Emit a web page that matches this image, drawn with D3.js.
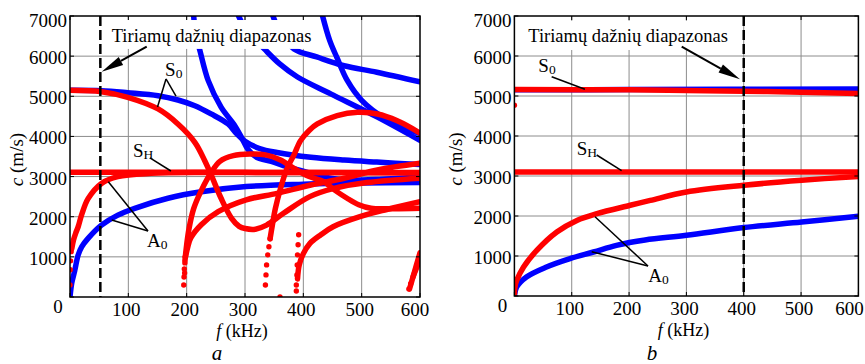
<!DOCTYPE html>
<html><head><meta charset="utf-8">
<script src="https://cdn.jsdelivr.net/npm/d3@7"></script>
<style>
body{margin:0;background:#fff}
svg{display:block}
</style>
</head><body>
<svg id="chart" width="865" height="364"></svg>
<script>
// ---------- tick values ----------
const xTicks = [0, 100, 200, 300, 400, 500, 600];
const xTickLabels = ["100", "200", "300", "400", "500", "600"];
const yTicks = [0, 1000, 2000, 3000, 4000, 5000, 6000, 7000];
const yTickLabels = ["1000", "2000", "3000", "4000", "5000", "6000", "7000"];

// ---------- panel a : blue curves (f kHz, c m/s) ----------
const aBlueA0 = [[0,0],[3,350],[8,650],[14,1046],[20,1250],[31,1460],[54,1790],[82,2040],[111,2210],[168,2460],[225,2620],[302,2750],[400,2810],[500,2840],[600,2850]];
const aBlueS0 = [[0,5150],[54,5140],[99,5090],[151,5015],[185,4908],[214,4766],[242,4560],[271,4310],[285,4080],[300,3880],[325,3700],[355,3600],[413,3480],[470,3410],[526,3360],[600,3300]];
const aBlueA1 = [[212,7000],[216,6500],[222,6180],[237,5390],[259,4730],[282,4280],[295,3950],[305,3680],[320,3480],[345,3380],[372,3246],[413,3082],[447,2957],[470,2915],[530,2930],[600,2990]];
const aBlueM2 = [[289,7000],[300,6700],[315,6450],[333,6180],[360,5800],[390,5480],[447,5060],[527,4480],[600,3900]];
const aBlueM3 = [[348,7000],[360,6600],[384,6180],[423,5980],[470,5760],[526,5600],[600,5360]];
const aBlueM4 = [[433,7000],[445,6400],[458,5950],[475,5400],[500,4900],[540,4450],[600,4070]];

// ---------- panel a : red curves ----------
const aRedSH = [[0,3110],[300,3105],[600,3090]];
const aRedA0 = [[3,1200],[6,1420],[10,1600],[14,1750],[20,2050],[31,2450],[54,2830],[82,3000],[139,3080],[250,3100],[600,3100]];
const aRedS0 = [[0,5150],[54,5115],[99,4975],[151,4684],[185,4310],[214,3854],[231,3396],[242,3040],[259,2459],[277,1960],[290,1760],[300,1705],[318,1690],[337,1790],[366,2085],[411,2500],[451,2700],[509,2850],[600,2960]];
const aRedM1 = [[197,900],[200,1300],[204,1700],[212,2200],[225,2650],[242,3100],[257,3380],[280,3520],[309,3560],[335,3540],[360,3420],[384,3206],[410,3000],[435,2873],[455,2650],[475,2460],[495,2300],[516,2210],[555,2200],[600,2210]];
const aRedM2 = [[198,1000],[202,1250],[207,1470],[225,1800],[254,2125],[302,2420],[355,2583],[413,2790],[470,2957],[527,3164],[600,3330]];
const aRedM3 = [[343,1450],[347,1800],[352,2200],[361,2710],[372,3200],[384,3540],[395,3890],[410,4150],[424,4310],[458,4517],[493,4600],[527,4560],[561,4390],[600,4080]];
const aRedM4 = [[390,450],[393,800],[400,1080],[411,1330],[430,1550],[451,1750],[497,2000],[543,2180],[600,2375]];
const aRedM5 = [[582,200],[586,400],[590,600],[594,800],[598,1000],[600,1100]];
const aRedM6 = [[588,500],[592,650],[596,800],[600,950]];
const aRedDots = [[0,300],[0.5,680],[1,900],[2,1130],
  [195,300],[195.5,500],[196,700],[197,850],[196.5,600],[197.5,1000],
  [335,300],[336,550],[337,800],[339,1050],[341,1250],[343,1450],
  [388,150],[388,300],[389,550],[389.5,800],[390,1050],[391,1300],[392,1550],
  [360,0],[581,200],[584,330]];

// ---------- panel b ----------
const bBlueS0 = [[0,5155],[200,5160],[600,5175]];
const bBlueA0 = [[0,0],[4,225],[21,475],[56,725],[97,935],[138,1100],[178,1267],[228,1400],[300,1517],[400,1710],[501,1850],[600,1993]];
const bRedS0 = [[0,5160],[200,5155],[300,5140],[400,5120],[500,5095],[600,5065]];
const bRedSH = [[0,3100],[600,3100]];
const bRedA0 = [[0,60],[1,250],[4,390],[16,725],[39,1140],[74,1600],[109,1890],[144,2060],[202,2268],[237,2390],[300,2600],[400,2768],[501,2893],[600,2990]];
const bRedDots = [[0,4770],[0,60],[1,250]];

// ---------- text ----------
const rangeLabel = "Tiriamų dažnių diapazonas";

const FONT = '"Liberation Serif", "Times New Roman", serif';
const svg = d3.select("#chart");
const RED = "#ff0000", BLUE = "#0000ff";

function txt(sel) { return sel.append("text").attr("font-family", FONT).attr("fill", "#000"); }

function panel(o) {
  const x = d3.scaleLinear().domain([0, 600]).range(o.xr);
  const y = d3.scaleLinear().domain([0, 7000]).range(o.yr);
  const g = svg.append("g");
  const id = "clip" + o.name;
  svg.append("defs").append("clipPath").attr("id", id)
    .append("rect").attr("x", o.xr[0]).attr("y", o.yr[1])
    .attr("width", o.xr[1] - o.xr[0]).attr("height", o.yr[0] - o.yr[1]);

  // grid
  g.selectAll(".gx").data(xTicks.slice(1, -1)).enter().append("line")
    .attr("x1", d => x(d)).attr("x2", d => x(d)).attr("y1", y(0)).attr("y2", y(7000))
    .attr("stroke", "#8c8c8c").attr("stroke-width", 1);
  g.selectAll(".gy").data(yTicks.slice(1, -1)).enter().append("line")
    .attr("y1", d => y(d)).attr("y2", d => y(d)).attr("x1", x(0)).attr("x2", x(600))
    .attr("stroke", "#8c8c8c").attr("stroke-width", 1);

  const line = d3.line().x(d => x(d[0])).y(d => y(d[1])).curve(d3.curveCatmullRom.alpha(0.5));
  const cg = g.append("g").attr("clip-path", `url(#${id})`);
  o.blue.forEach(s => cg.append("path").attr("d", line(s)).attr("fill", "none")
    .attr("stroke", BLUE).attr("stroke-width", 5.5).attr("stroke-linecap", "round").attr("stroke-linejoin", "round"));
  o.red.forEach(s => cg.append("path").attr("d", line(s)).attr("fill", "none")
    .attr("stroke", RED).attr("stroke-width", 5.5).attr("stroke-linecap", "round").attr("stroke-linejoin", "round"));
  cg.selectAll(".dot").data(o.dots).enter().append("circle")
    .attr("cx", d => x(d[0])).attr("cy", d => y(d[1])).attr("r", 2.7).attr("fill", RED);

  // label box
  g.append("rect").attr("x", x(o.box[0])).attr("y", y(o.box[3]))
    .attr("width", x(o.box[1]) - x(o.box[0])).attr("height", y(o.box[2]) - y(o.box[3])).attr("fill", "#fff");

  // dashed line
  g.append("line").attr("x1", x(o.dash)).attr("x2", x(o.dash)).attr("y1", y(7000)).attr("y2", y(0))
    .attr("stroke", "#000").attr("stroke-width", 2.5).attr("stroke-dasharray", "10,4");

  // frame
  g.append("rect").attr("x", x(0)).attr("y", y(7000)).attr("width", x(600) - x(0)).attr("height", y(0) - y(7000))
    .attr("fill", "none").attr("stroke", "#000").attr("stroke-width", 1.5);
  xTicks.forEach(t => {
    g.append("line").attr("x1", x(t)).attr("x2", x(t)).attr("y1", y(0)).attr("y2", y(0) - 4).attr("stroke", "#000");
    g.append("line").attr("x1", x(t)).attr("x2", x(t)).attr("y1", y(7000)).attr("y2", y(7000) + 4).attr("stroke", "#000");
  });
  yTicks.forEach(t => {
    g.append("line").attr("y1", y(t)).attr("y2", y(t)).attr("x1", x(0)).attr("x2", x(0) + 4).attr("stroke", "#000");
    g.append("line").attr("y1", y(t)).attr("y2", y(t)).attr("x1", x(600)).attr("x2", x(600) - 4).attr("stroke", "#000");
  });
  // tick labels
  xTickLabels.forEach((d, i) => txt(g).attr("x", x(xTicks[i + 1]) - (i === 5 ? o.lastShift : 2)).attr("y", y(0) + 19)
    .attr("text-anchor", "middle").attr("font-size", 19).text(d));
  yTickLabels.forEach((d, i) => txt(g).attr("x", x(0) - 3).attr("y", y(yTicks[i + 1]) + (i === 6 ? 10.5 : 8))
    .attr("text-anchor", "end").attr("font-size", 19).text(d));
  txt(g).attr("x", x(0) - 12).attr("y", y(0) + 16).attr("text-anchor", "middle").attr("font-size", 19).text("0");

  // axis titles
  const xt = txt(g).attr("x", (x(0) + x(600)) / 2 - 3).attr("y", y(0) + 39.5)
    .attr("text-anchor", "middle").attr("font-size", 18);
  xt.append("tspan").attr("font-style", "italic").text("f");
  xt.append("tspan").text(" (kHz)");
  const yt = txt(g).attr("transform", `translate(${x(0) - o.ytOff},${(y(0) + y(7000)) / 2 + 3}) rotate(-90)`)
    .attr("text-anchor", "middle").attr("font-size", 19);
  yt.append("tspan").attr("font-style", "italic").text("c");
  yt.append("tspan").text(" (m/s)");
  txt(g).attr("x", o.letterX).attr("y", 359.5).attr("text-anchor", "middle")
    .attr("font-size", 21).attr("font-style", "italic").text(o.name);

  // range label + arrow
  txt(g).attr("x", x(o.lab[0])).attr("y", y(o.lab[1])).attr("font-size", 18.5).text(rangeLabel);
  const ax1 = x(o.arrow[0]), ay1 = y(o.arrow[1]), ax2 = x(o.arrow[2]), ay2 = y(o.arrow[3]);
  const ang = Math.atan2(ay2 - ay1, ax2 - ax1), L = 22, W = 4.5;
  const bx = ax2 - L * Math.cos(ang), by = ay2 - L * Math.sin(ang);
  g.append("line").attr("x1", ax1).attr("y1", ay1).attr("x2", bx).attr("y2", by).attr("stroke", "#000").attr("stroke-width", 2);
  g.append("path").attr("d", `M${ax2},${ay2}L${bx + W * Math.sin(ang)},${by - W * Math.cos(ang)}L${bx - W * Math.sin(ang)},${by + W * Math.cos(ang)}Z`).attr("fill", "#000");

  // mode annotations
  o.notes.forEach(n => {
    const t = txt(g).attr("x", x(n.t[0])).attr("y", y(n.t[1])).attr("font-size", 19);
    t.append("tspan").text(n.main);
    t.append("tspan").attr("font-size", 13.5).attr("dy", 2).text(n.sub);
    n.lines.forEach(l => g.append("line").attr("x1", x(l[0])).attr("y1", y(l[1])).attr("x2", x(l[2])).attr("y2", y(l[3]))
      .attr("stroke", "#000").attr("stroke-width", 1.5));
  });
}

panel({
  name: "a", xr: [70, 420], yr: [297, 16], ytOff: 47, letterX: 217, lastShift: 5,
  blue: [aBlueA0, aBlueS0, aBlueA1, aBlueM2, aBlueM3, aBlueM4],
  red: [aRedSH, aRedA0, aRedS0, aRedM1, aRedM2, aRedM3, aRedM4, aRedM5, aRedM6],
  dots: aRedDots, dash: 52,
  box: [65, 422, 6180, 6900],
  lab: [71.5, 6360], arrow: [131.5, 6236, 54.3, 5613],
  notes: [
    {main: "S", sub: "0", t: [163, 5506], lines: [[164.6, 5431, 150, 4733], [164.6, 5431, 181.7, 5007]]},
    {main: "S", sub: "H", t: [108, 3488], lines: [[137, 3463, 173, 3139]]},
    {main: "A", sub: "0", t: [132, 1258], lines: [[133.7, 1644, 65.7, 2872], [133.7, 1644, 71.5, 1918]]}
  ]
});
panel({
  name: "b", xr: [514.4, 858.4], yr: [296, 16], ytOff: 52, letterX: 652, lastShift: 9,
  blue: [bBlueS0, bBlueA0],
  red: [bRedS0, bRedSH, bRedA0],
  dots: bRedDots, dash: 400,
  box: [17, 385, 6150, 6880],
  lab: [24.2, 6358], arrow: [291.8, 6233, 393.4, 5418],
  notes: [
    {main: "S", sub: "0", t: [41.7, 5608], lines: [[65, 5483, 123, 5168]]},
    {main: "S", sub: "H", t: [108.7, 3525], lines: [[143.5, 3525, 187, 3133]]},
    {main: "A", sub: "0", t: [233.6, 362], lines: [[233, 750, 140.6, 1983], [233, 750, 134.8, 1108]]}
  ]
});
</script>
</body></html>
